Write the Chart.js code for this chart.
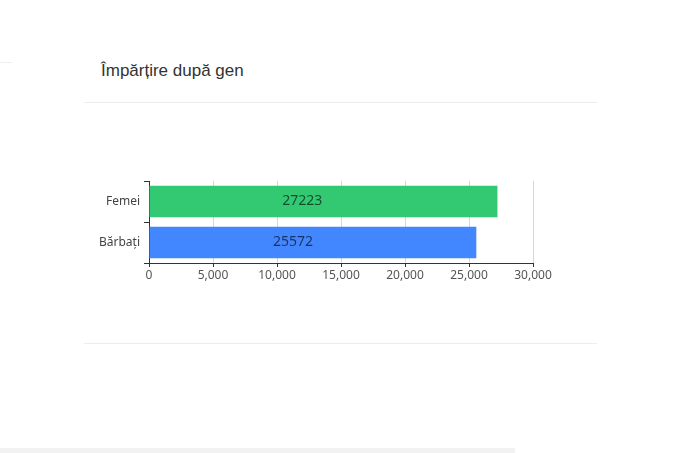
<!DOCTYPE html>
<html>
<head>
<meta charset="utf-8">
<script src="https://cdn.jsdelivr.net/npm/chart.js@4"></script>
<style>
    html, body { margin: 0; padding: 0; background: #fff; width: 691px; height: 453px; overflow: hidden; }
    .card { position: absolute; left: 84px; top: 40px; width: 513px; height: 304px; }
    .card-title {
        position: absolute; left: 17px; top: 21px;
        font-family: "Liberation Sans", Arial, sans-serif; font-size: 17px; color: #333;
        line-height: 20px;
    }
    .sep { position: absolute; left: 0; width: 513px; height: 1px; background: #ededed; }
    .chart-box { position: absolute; left: 0; top: 63px; width: 513px; height: 240px; }
    .edge-mark { position: absolute; left: 0; top: 62px; width: 12px; height: 1px; background: #eee; }
    .bottom-strip { position: absolute; left: 0; top: 448px; width: 515px; height: 5px; background: #f2f2f2; }
</style>
</head>
<body>
<div class="edge-mark"></div>
<div class="card">
    <div class="card-title">Împărțire după gen</div>
    <div class="sep" style="top: 62px;"></div>
    <div class="chart-box"><canvas id="genderChart" width="513" height="240"></canvas></div>
    <div class="sep" style="top: 303px;"></div>
</div>
<div class="bottom-strip"></div>

<script>
// Date grafic
const categories = ['Femei', 'Bărbați'];
const values = [27223, 25572];
const barColors = ['#33c973', '#4287ff'];
const xTicks = [0, 5000, 10000, 15000, 20000, 25000, 30000];

// Etichete de valoare în interiorul barelor
const valueLabels = {
    id: 'valueLabels',
    afterDatasetsDraw(chart) {
        const ctx = chart.ctx;
        const meta = chart.getDatasetMeta(0);
        const xScale = chart.scales.x;
        ctx.save();
        ctx.font = '14px "Noto Sans", sans-serif';
        ctx.fillStyle = 'rgba(0, 0, 0, 0.62)';
        ctx.textAlign = 'center';
        ctx.textBaseline = 'middle';
        meta.data.forEach((bar, i) => {
            const x = xScale.getPixelForValue(values[i] * 0.44);
            ctx.fillText(String(values[i]), x, bar.y);
        });
        ctx.restore();
    }
};

const ctx = document.getElementById('genderChart').getContext('2d');
new Chart(ctx, {
    type: 'bar',
    data: {
        labels: categories,
        datasets: [{
            data: values,
            backgroundColor: barColors,
            borderWidth: 0,
            categoryPercentage: 1,
            barPercentage: 0.77
        }]
    },
    options: {
        indexAxis: 'y',
        responsive: false,
        animation: false,
        devicePixelRatio: 1,
        layout: {
            padding: { left: 0, right: 64, top: 78, bottom: 55 }
        },
        plugins: {
            legend: { display: false },
            tooltip: { enabled: false }
        },
        scales: {
            x: {
                min: 0,
                max: 30000,
                afterBuildTicks: function(scale) {
                    scale.ticks = xTicks.map(v => ({ value: v }));
                },
                afterFit: function(scale) {
                    scale.height = 25;
                },
                ticks: {
                    padding: 1,
                    color: '#555',
                    font: { family: '"Noto Sans", sans-serif', size: 12 },
                    callback: function(value) {
                        return value.toLocaleString('en-US');
                    }
                },
                grid: {
                    color: '#d6d6d6',
                    tickColor: '#333',
                    tickLength: 4
                },
                border: { color: '#333', width: 1 }
            },
            y: {
                afterFit: function(scale) {
                    scale.width = 65;
                },
                ticks: {
                    padding: 4,
                    color: '#444',
                    font: { family: '"Noto Sans", sans-serif', size: 12 }
                },
                grid: {
                    drawOnChartArea: false,
                    color: '#333',
                    tickLength: 5
                },
                border: { color: '#333', width: 1 }
            }
        }
    },
    plugins: [valueLabels]
});
</script>
</body>
</html>
